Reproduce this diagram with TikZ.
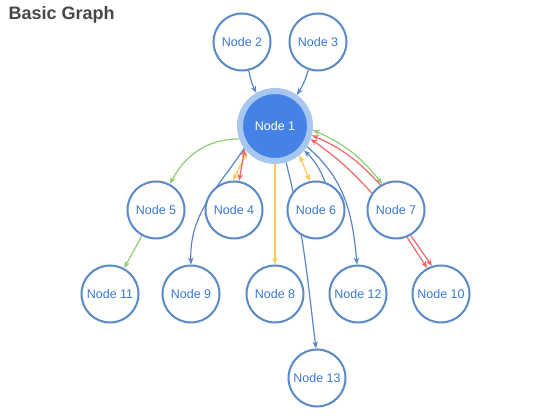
\documentclass[tikz,border=0pt]{standalone}
\usepackage{fontspec}
\setmainfont{Liberation Sans}
\usepackage{xcolor}
\usepackage{tikz}
\usetikzlibrary{arrows.meta, backgrounds}

\definecolor{nodeblue}{HTML}{5A8AC6}
\definecolor{textblue}{HTML}{3A78D0}
\definecolor{edgeblue}{HTML}{5B85C5}
\definecolor{hubfill}{HTML}{4582E6}
\definecolor{hubhalo}{HTML}{A8C7F0}
\definecolor{egreen}{HTML}{91CC75}
\definecolor{eorange}{HTML}{FAC858}
\definecolor{ered}{HTML}{EE6666}

\tikzset{
  gnode/.style={draw=nodeblue, fill=white, circle, line width=2pt,
    minimum size=57pt, inner sep=0pt, text=textblue,
    font=\fontsize{12.5}{14}\selectfont},
  hub/.style={draw=hubhalo, fill=hubfill, circle, line width=6pt,
    minimum size=70pt, inner sep=0pt, text=white,
    font=\fontsize{12.5}{14}\selectfont},
  tip/.tip={Stealth[length=7pt, width=5.5pt]},
  edge/.style={line width=1.2pt, -tip},
  both/.style={tip-tip},
  bedge/.style={edge, draw=edgeblue},
  gedge/.style={edge, draw=egreen},
  oedge/.style={edge, draw=eorange},
  redge/.style={edge, draw=ered},
}

\begin{document}
\begin{tikzpicture}[x=1pt, y=1pt]
  \useasboundingbox (0,0) rectangle (550,420);

  \node[anchor=west, text=black!72, font=\fontsize{18}{21}\selectfont\bfseries]
      (title) at (5,405) {Basic Graph};

  % top row
  \node[gnode] (n2) at (242,378) {Node 2};
  \node[gnode] (n3) at (318,378) {Node 3};
  \node[hub]   (n1) at (275,294) {Node 1};

  % middle row
  \node[gnode] (n5) at (156,210) {Node 5};
  \node[gnode] (n4) at (234,210) {Node 4};
  \node[gnode] (n6) at (316,210) {Node 6};
  \node[gnode] (n7) at (396,210) {Node 7};

  % bottom rows
  \node[gnode] (n11) at (110,126) {Node 11};
  \node[gnode] (n9)  at (191,126) {Node 9};
  \node[gnode] (n8)  at (275,126) {Node 8};
  \node[gnode] (n12) at (358,126) {Node 12};
  \node[gnode] (n10) at (441,126) {Node 10};
  \node[gnode] (n13) at (317,42)  {Node 13};

  \begin{pgfonlayer}{background}
    \draw[bedge] (n2) to[bend right=8] (n1);
    \draw[bedge] (n3) to[bend left=8] (n1);

    \draw[gedge] (n1.200) to[out=180, in=62] (n5.62);
    \draw[gedge] (n5) -- (n11);

    \draw[bedge] (n1.216) to[out=236, in=92] (n9.90);
    \draw[oedge, both] (n1.223) -- (n4.92);
    \draw[redge, both] (n1.217) -- (n4.80);

    \draw[oedge] (n1) -- (n8);
    \draw[bedge] (n1.-73) to[out=-76, in=97] (n13.92);
    \draw[oedge, both] (n1.-50) -- (n6.102);
    \draw[bedge] (n6.72) to[bend right=12] (n1.-40);
    \draw[bedge] (n1.-33) to[out=-40, in=95] (n12.92);

    \draw[gedge, both] (n1.-6) to[bend left=14] (n7.118);
    \draw[redge] (n7.122) to[bend right=12] (n1.-14);
    \draw[redge] (n7.145) to[bend right=6] (n1.-20);

    \draw[redge] (n7.-68) -- (n10.118);
    \draw[redge] (n7.-60) -- (n10.108);
  \end{pgfonlayer}
\end{tikzpicture}
\end{document}
